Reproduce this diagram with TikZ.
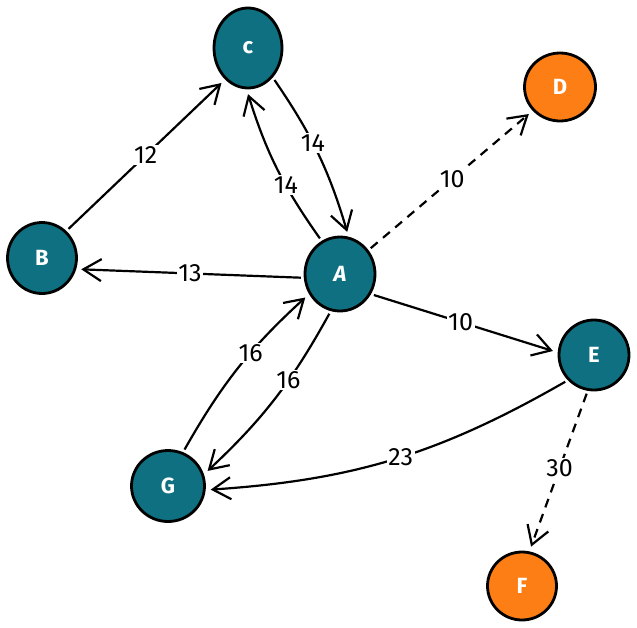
\documentclass[tikz,border=0pt]{standalone}
\usepackage{fontspec}
\setmainfont{Fira Sans}
\usetikzlibrary{arrows.meta,shapes.geometric}
\definecolor{teal1}{RGB}{14,112,128}
\definecolor{orng}{RGB}{253,126,20}
\tikzset{
  vtx/.style={ellipse, draw=black, line width=2.8pt, inner sep=0pt, text=white, font=\fontsize{22}{22}\selectfont\bfseries},
  tealv/.style={vtx, fill=teal1},
  orngv/.style={vtx, fill=orng},
  edge/.style={line width=2.2pt, -{Straight Barb[length=18pt,width=22pt,line width=2.2pt]}, shorten >=5pt, shorten <=3pt},
  dedge/.style={edge, dash pattern=on 9pt off 7pt},
  lbl/.style={fill=white, inner sep=1.5pt, font=\fontsize{25}{25}\selectfont}
}
\begin{document}
\begin{tikzpicture}[x=1pt,y=-1pt]
\useasboundingbox (0,0) rectangle (637,627);
\node[tealv, minimum width=68pt, minimum height=80pt] (C) at (248,48) {c};
\node[orngv, minimum width=71pt, minimum height=68pt] (D) at (560,87) {D};
\node[tealv, minimum width=69pt, minimum height=71pt] (B) at (42,258) {B};
\node[tealv, minimum width=70pt, minimum height=74pt] (A) at (340,274) {\itshape A};
\node[tealv, minimum width=70pt, minimum height=70pt] (E) at (594,355) {E};
\node[tealv, minimum width=73pt, minimum height=71pt] (G) at (168,486) {G};
\node[orngv, minimum width=69pt, minimum height=68pt] (F) at (522,586) {F};

\draw[edge] (B.48) -- node[lbl,pos=0.5]{12} (C.234);
\draw[edge] (A.119) to[bend left=9] node[lbl,pos=0.38]{14} (C.268);
\draw[edge] (C.-50) to[bend left=9] node[lbl,pos=0.43]{14} (A.77);
\draw[dedge] (A.40) -- node[lbl,pos=0.51]{10} (D.221);
\draw[edge] (A.186) -- node[lbl,pos=0.5]{13} (B.-18);
\draw[edge] (A.-33) -- node[lbl,pos=0.48]{10} (E.176);
\draw[edge] (G.66) to[bend left=9] node[lbl,pos=0.6]{16} (A.213);
\draw[edge] (A.256) to[bend left=9] node[lbl,pos=0.38]{16} (G.18);
\draw[edge] (E.224) to[bend left=13] node[lbl,pos=0.48]{23} (G.-6);
\draw[dedge] (E.260) -- node[lbl,pos=0.48]{30} (F.78);
\end{tikzpicture}
\end{document}
